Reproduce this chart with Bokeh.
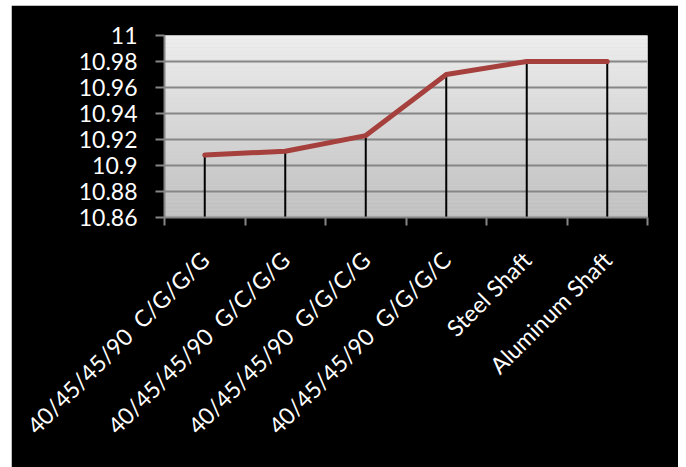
import numpy as np
from bokeh.plotting import figure
from bokeh.models import FixedTicker, Range1d
from bokeh.embed import file_html
from bokeh.resources import INLINE

# ---- data ----
categories = ["40/45/45/90 \u00a0C/G/G/G", "40/45/45/90 \u00a0G/C/G/G", "40/45/45/90 \u00a0G/G/C/G",
              "40/45/45/90 \u00a0G/G/G/C", "Steel Shaft", "Aluminum Shaft"]
values = [10.908, 10.911, 10.923, 10.970, 10.980, 10.980]
y_ticks = [10.86, 10.88, 10.90, 10.92, 10.94, 10.96, 10.98, 11.0]
y_tick_labels = ["10.86", "10.88", "10.9", "10.92", "10.94", "10.96", "10.98", "11"]

n = len(categories)
y0, y1 = y_ticks[0], y_ticks[-1]
xc = [i + 0.5 for i in range(n)]

p = figure(frame_width=483, frame_height=182,
           x_range=Range1d(0, n), y_range=Range1d(y0, y1),
           output_backend="svg", toolbar_location=None,
           min_border_left=153, min_border_top=30, min_border_right=31, min_border_bottom=250,
           border_fill_color="black", background_fill_color="#d6d6d6",
           outline_line_color=None, margin=(5, 8, 0, 11))

# gradient plot-area background
nb = 46
edges = np.linspace(y0, y1, nb + 1)
c_bot = np.array([0xC0, 0xC0, 0xC0])
c_top = np.array([0xEE, 0xEE, 0xEE])
cols = []
for k in range(nb):
    t = (k + 0.5) / nb
    c = (c_bot + (c_top - c_bot) * t).astype(int)
    cols.append("#%02x%02x%02x" % tuple(c))
bg = p.quad(left=0, right=n, bottom=edges[:-1], top=edges[1:], fill_color=cols, line_color=None)
bg.level = "image"

# drop lines and series line
p.segment(x0=xc, y0=[y0] * n, x1=xc, y1=values, line_color="black", line_width=2)
p.line(xc, values, line_color="#A5403C", line_width=5, line_join="round", line_cap="round")

# grid
p.xgrid.grid_line_color = None
p.ygrid.ticker = FixedTicker(ticks=y_ticks)
p.ygrid.grid_line_color = "#868686"
p.ygrid.grid_line_width = 2

# y axis
ya = p.yaxis[0]
ya.ticker = FixedTicker(ticks=y_ticks)
ya.major_label_overrides = {t: s for t, s in zip(y_ticks, y_tick_labels)}
ya.major_label_text_color = "white"
ya.major_label_text_font = "Lato"
ya.major_label_text_font_size = "23px"
ya.major_label_standoff = 18
ya.major_tick_out = 9
ya.major_tick_in = 0
ya.major_tick_line_color = "#868686"
ya.major_tick_line_width = 2
ya.minor_tick_line_color = None
ya.axis_line_color = "#868686"
ya.axis_line_width = 2

# x axis
xa = p.xaxis[0]
xa.ticker = FixedTicker(ticks=xc, minor_ticks=list(range(n + 1)))
xa.major_label_overrides = {t: s for t, s in zip(xc, categories)}
xa.major_label_orientation = np.pi / 4
xa.major_label_text_color = "white"
xa.major_label_text_font = "Lato"
xa.major_label_text_font_size = "23px"
xa.major_label_standoff = 30
xa.major_tick_line_color = None
xa.minor_tick_out = 8
xa.minor_tick_in = 0
xa.minor_tick_line_color = "#868686"
xa.minor_tick_line_width = 2
xa.axis_line_color = "#868686"
xa.axis_line_width = 2

open("out.html", "w").write(file_html(p, INLINE))
